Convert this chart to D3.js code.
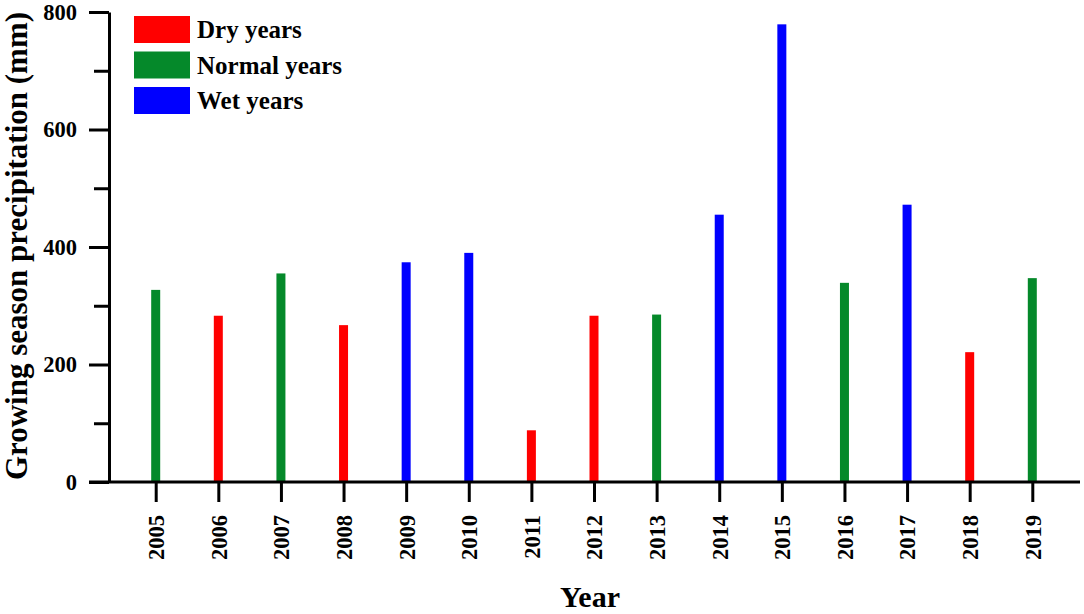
<!DOCTYPE html>
<html>
<head>
<meta charset="utf-8">
<script src="https://cdn.jsdelivr.net/npm/d3@7/dist/d3.min.js"></script>
<style>
  html, body { margin: 0; padding: 0; background: #fff; }
  text { font-family: "Liberation Serif", "Times New Roman", serif; font-weight: bold; fill: #000; }
</style>
</head>
<body>
<svg id="chart" width="1084" height="614"></svg>
<script>
const years = ["2005","2006","2007","2008","2009","2010","2011","2012","2013","2014","2015","2016","2017","2018","2019"];
const precipitation = [327, 283, 355, 267, 374, 390, 88, 283, 285, 455, 779, 339, 472, 221, 347];
const yearType = ["Normal","Dry","Normal","Dry","Wet","Wet","Dry","Dry","Normal","Wet","Wet","Normal","Wet","Dry","Normal"];
const legendTypes = ["Dry", "Normal", "Wet"];
const legendLabels = ["Dry years", "Normal years", "Wet years"];
const yMajorTicks = [0, 200, 400, 600, 800];
const yMinorTicks = [100, 300, 500, 700];

const colors = { Dry: "#ff0000", Normal: "#05892a", Wet: "#0000ff" };

const svg = d3.select("#chart");
const axisLeftX = 109, axisBottomY = 482, topY = 12;

const x = d3.scalePoint().domain(years).range([155.7, 1032.3]);
const y = d3.scaleLinear().domain([0, 800]).range([axisBottomY, topY]);

// Bars
const barW = 9;
svg.append("g").selectAll("rect")
  .data(years.map((yr, i) => ({ yr, v: precipitation[i], t: yearType[i] })))
  .join("rect")
  .attr("x", d => x(d.yr) - barW / 2)
  .attr("y", d => y(d.v))
  .attr("width", barW)
  .attr("height", d => y(0) - y(d.v))
  .attr("fill", d => colors[d.t]);

// Y axis
const yAxis = svg.append("g").attr("transform", `translate(${axisLeftX},0)`)
  .call(d3.axisLeft(y).tickValues(yMajorTicks).tickSize(20).tickSizeOuter(0).tickPadding(12).tickFormat(d3.format("d")));
yAxis.select(".domain").attr("stroke-width", 3);
yAxis.selectAll(".tick line").attr("stroke-width", 3);
yAxis.selectAll(".tick text").style("font-size", "22.5px");

const yMinor = svg.append("g").attr("transform", `translate(${axisLeftX},0)`)
  .call(d3.axisLeft(y).tickValues(yMinorTicks).tickSize(15).tickSizeOuter(0).tickFormat(""));
yMinor.select(".domain").remove();
yMinor.selectAll(".tick line").attr("stroke-width", 3);

// X axis
const xAxis = svg.append("g").attr("transform", `translate(0,${axisBottomY})`)
  .call(d3.axisBottom(x).tickSize(20).tickSizeOuter(0).tickPadding(0));
xAxis.select(".domain").remove();
xAxis.append("line")
  .attr("x1", axisLeftX - 20).attr("x2", 1080)
  .attr("y1", 0).attr("y2", 0)
  .attr("stroke", "#000").attr("stroke-width", 3);
xAxis.selectAll(".tick line").attr("stroke-width", 3);
xAxis.selectAll(".tick text")
  .style("font-size", "22.5px")
  .attr("text-anchor", "end")
  .attr("transform", "translate(0,33) rotate(-90)")
  .attr("x", 0).attr("y", 0).attr("dy", "0.35em");

// Axis titles
svg.append("text")
  .attr("transform", `translate(27,246) rotate(-90)`)
  .attr("text-anchor", "middle")
  .style("font-size", "31px")
  .text("Growing season precipitation (mm)");

svg.append("text")
  .attr("x", 590).attr("y", 607)
  .attr("text-anchor", "middle")
  .style("font-size", "30px")
  .text("Year");

// Legend
const legend = svg.append("g").attr("transform", "translate(134,16)");
const lg = legend.selectAll("g").data(legendTypes).join("g")
  .attr("transform", (d, i) => `translate(0,${i * 35.5})`);
lg.append("rect").attr("width", 56).attr("height", 27).attr("fill", d => colors[d]);
lg.append("text").attr("x", 63).attr("y", 13.5).attr("dy", "0.35em")
  .style("font-size", "25px")
  .text((d, i) => legendLabels[i]);
</script>
</body>
</html>
